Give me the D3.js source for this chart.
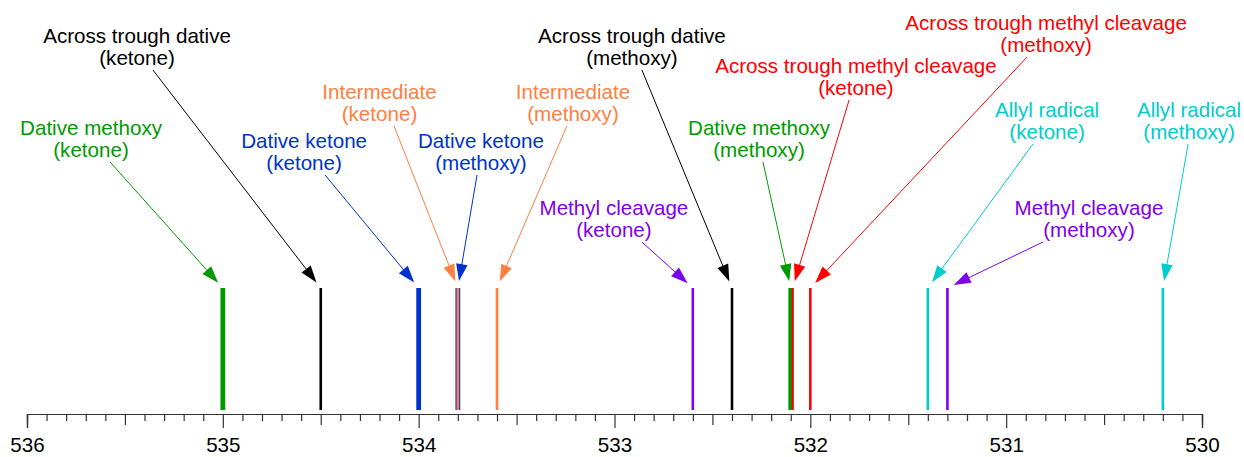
<!DOCTYPE html>
<html>
<head>
<meta charset="utf-8">
<script src="https://cdn.jsdelivr.net/npm/d3@7"></script>
<style>
  body { margin: 0; background: #fff; }
  svg text { font-family: "Liberation Sans", Arial, Helvetica, sans-serif; }
</style>
</head>
<body>
<div id="chart"></div>
<script>
// binding energies (eV) of each computed state
const energies = [535.0, 534.5, 534.0, 533.8, 533.8, 533.6, 532.6, 532.4, 532.1, 532.09, 532.0, 531.4, 531.3, 530.2];
const labels = ["Dative methoxy", "Across trough dative", "Dative ketone", "Intermediate", "Dative ketone",
    "Intermediate", "Methyl cleavage", "Across trough dative", "Dative methoxy",
    "Across trough methyl cleavage", "Across trough methyl cleavage", "Allyl radical", "Methyl cleavage", "Allyl radical"];
const sites = ["ketone", "ketone", "ketone", "ketone", "methoxy", "methoxy", "ketone", "methoxy", "methoxy",
    "ketone", "methoxy", "ketone", "methoxy", "methoxy"];
const majorTicks = [536, 535, 534, 533, 532, 531, 530];

// annotation layout: label centre (eV), first-line baseline (px), arrow tail (eV)
const labelAt = [535.673, 535.438, 534.585, 534.20, 533.682, 533.212, 533.003, 532.911, 532.262, 531.767, 530.796, 530.791, 530.577, 530.066];
const labelBase = [135, 43, 148, 99, 148, 99, 215, 43, 135, 73, 30, 117, 215, 117];
const tailAt = [535.576, 535.357, 534.478, 534.126, 533.702, 533.243, 532.860, 532.860, 532.242, 531.802, 530.893, 530.863, 530.812, 530.071];

const colors = {
    "Dative methoxy": "#009a00",
    "Across trough dative": "#000000",
    "Dative ketone": "#0033cc",
    "Intermediate": "#ff8040",
    "Methyl cleavage": "#7f00ee",
    "Across trough methyl cleavage": "#ff0000",
    "Allyl radical": "#00cccc"
};

const width = 1244, height = 457;
const axisY = 414;

const svg = d3.select('#chart').append('svg')
    .attr('width', width)
    .attr('height', height);

const x = d3.scaleLinear().domain([536, 530]).range([27, 1202]);
const y = d3.scaleLinear().domain([0, 1]).range([410, 288]);

const data = energies.map((e, i) => ({
    e: e, name: labels[i], site: sites[i],
    color: colors[labels[i]],
    w: labels[i].startsWith("Dative") ? 4.8 : (i === 9 ? 2.2 : 2.6),
    lx: labelAt[i], ly: labelBase[i], tx: tailAt[i]
}));

// axis: minor (0.1), mid (0.5) and major (1.0) ticks
const axisG = svg.append('g').attr('transform', `translate(0,${axisY})`);
const minor = d3.range(5300, 5361).map(d => d / 10).filter(d => Math.round(d * 10) % 5 !== 0);
const mid = d3.range(530.5, 536, 1);

axisG.append('g').call(d3.axisBottom(x).tickValues(minor).tickSize(7).tickFormat(''));
axisG.append('g').call(d3.axisBottom(x).tickValues(mid).tickSize(11).tickFormat(''));
axisG.append('g').call(d3.axisBottom(x).tickValues(majorTicks).tickSize(14).tickFormat(d3.format('d')));

axisG.selectAll('.domain').attr('stroke', '#333').attr('stroke-width', 1.2);
axisG.selectAll('.tick line').attr('stroke', '#333').attr('stroke-width', 1.2);
axisG.selectAll('.tick text')
    .attr('y', 38).attr('dy', 0)
    .attr('fill', '#000')
    .style('font-size', '20.6px');

// state lines, thick ones first so thin ones lie on top
const order = data.slice().sort((a, b) => b.w - a.w);
svg.append('g').selectAll('line')
    .data(order)
    .join('line')
    .attr('x1', d => x(d.e)).attr('x2', d => x(d.e))
    .attr('y1', y(0)).attr('y2', y(1))
    .attr('stroke', d => d.color)
    .attr('stroke-width', d => d.w);

// labels
const lab = svg.append('g').selectAll('text')
    .data(data)
    .join('text')
    .attr('x', d => x(d.lx))
    .attr('y', d => d.ly)
    .attr('text-anchor', 'middle')
    .attr('fill', d => d.color)
    .style('font-size', '20.6px');
lab.append('tspan').attr('x', d => x(d.lx)).text(d => d.name);
lab.append('tspan').attr('x', d => x(d.lx)).attr('dy', 22).text(d => '(' + d.site + ')');

// arrows
svg.append('g').selectAll('g')
    .data(data)
    .join('g')
    .each(function (d) {
        const x0 = x(d.tx), y0 = d.ly + 27;
        const x1 = x(d.e), y1 = y(1);
        const len = Math.hypot(x1 - x0, y1 - y0);
        const ux = (x1 - x0) / len, uy = (y1 - y0) / len;
        const tipX = x1 - 7 * ux, tipY = y1 - 7 * uy;
        const bx = tipX - 17 * ux, by = tipY - 17 * uy;
        const g = d3.select(this);
        g.append('line')
            .attr('x1', x0).attr('y1', y0)
            .attr('x2', bx + 2 * ux).attr('y2', by + 2 * uy)
            .attr('stroke', d.color)
            .attr('stroke-width', 1);
        g.append('path')
            .attr('d', `M${tipX},${tipY}L${bx - 5.8 * uy},${by + 5.8 * ux}L${bx + 5.8 * uy},${by - 5.8 * ux}Z`)
            .attr('fill', d.color);
    });
</script>
</body>
</html>
